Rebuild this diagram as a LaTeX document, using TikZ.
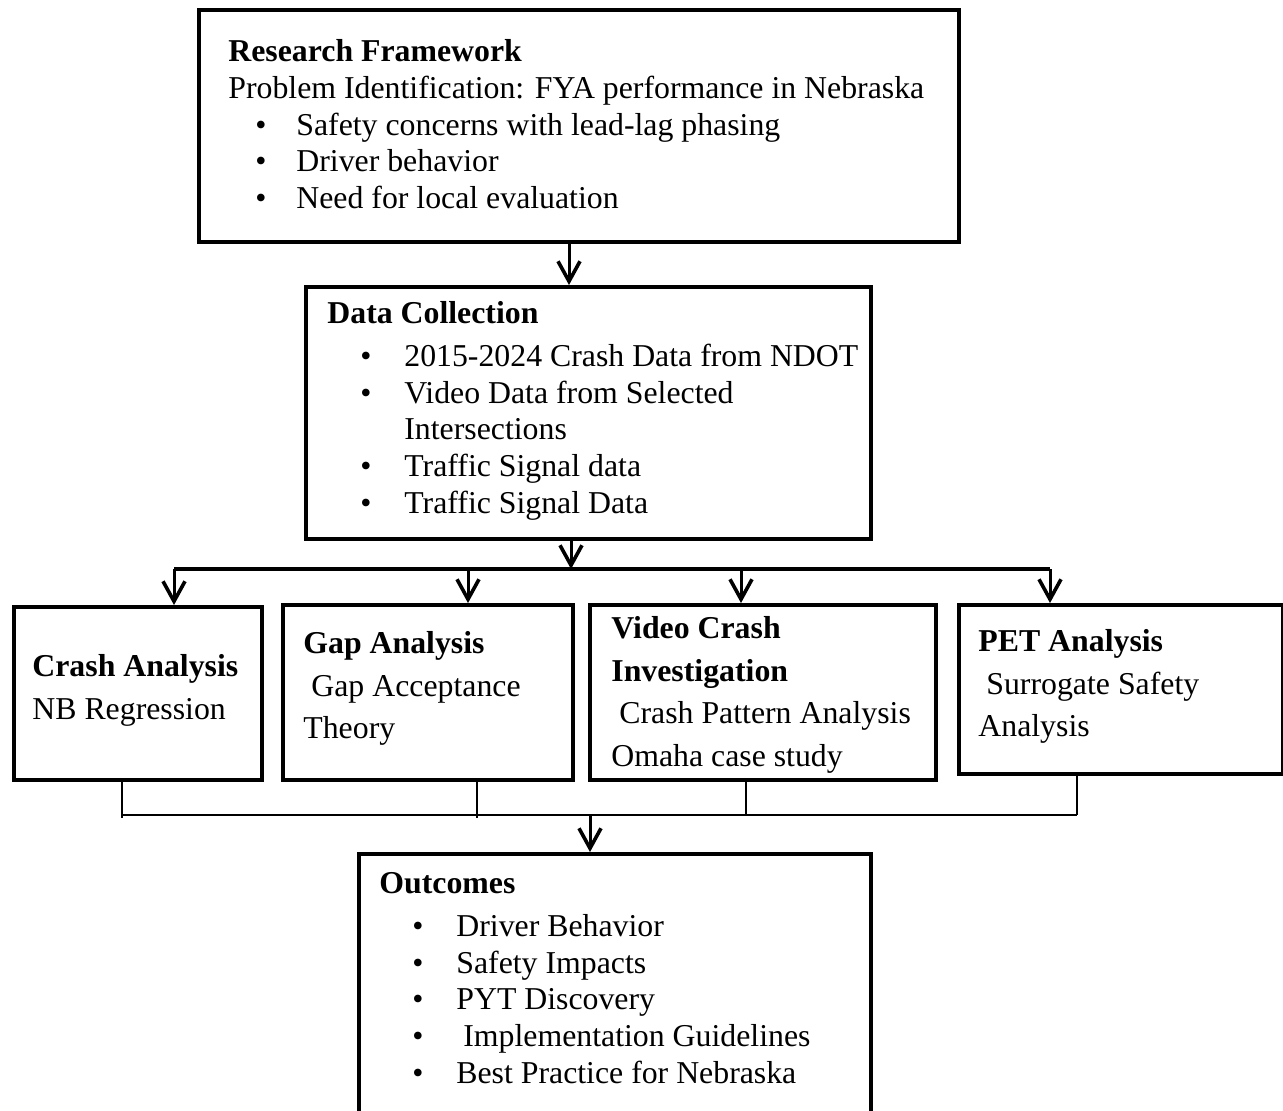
\documentclass[tikz,border=0pt]{standalone}
\usepackage{fontspec}
\setmainfont{Liberation Serif}
\usetikzlibrary{arrows.meta, positioning}

\tikzset{
  box/.style={draw, line width=1.8pt, anchor=north west, inner sep=0pt},
  txt/.style={anchor=north west, align=left, inner sep=0pt, font=\fontsize{15.9}{18.4}\selectfont},
  looses/.style={txt, font=\fontsize{15.9}{21.3}\selectfont},
  feed/.style={line width=1.5pt, -{Straight Barb[length=10pt,width=11pt,line width=1.8pt]}},
  bus/.style={line width=2.2pt},
  collect/.style={line width=1.3pt}
}
% bullet line: bullet offset, text offset, text
\newcommand{\bul}[3]{\makebox[#2][l]{\hspace{#1}\textbullet}#3}

\begin{document}
\begin{tikzpicture}[x=0.5pt, y=-0.5pt]
  \clip (0,0) rectangle (1283,1110);

  % boxes
  \node[box, minimum width=380pt, minimum height=116pt] (frame) at (197,8) {};
  \node[box, minimum width=282.5pt, minimum height=126pt] (data) at (304,285) {};
  \node[box, minimum width=124pt, minimum height=86.5pt] (crash) at (12,605) {};
  \node[box, minimum width=145pt, minimum height=87.5pt] (gap) at (281,603) {};
  \node[box, minimum width=173pt, minimum height=87.5pt] (video) at (588,603) {};
  \node[box, minimum width=162pt, minimum height=84.5pt] (pet) at (957,603) {};
  \node[box, minimum width=256pt, minimum height=140pt] (outcomes) at (357,852) {};

  % texts
  \node[txt] (frametxt) at (228,39) {\textbf{Research Framework}\\
    Problem Identification: FYA performance in Nebraska\\
    \bul{13.5pt}{34pt}{Safety concerns with lead-lag phasing}\\
    \bul{13.5pt}{34pt}{Driver behavior}\\
    \bul{13.5pt}{34pt}{Need for local evaluation}};
  \node[txt] (datatxt) at (327,301) {\textbf{Data Collection}\\[3pt]
    \bul{16.5pt}{38.5pt}{2015-2024 Crash Data from NDOT}\\
    \bul{16.5pt}{38.5pt}{Video Data from Selected}\\
    \hspace*{38.5pt}Intersections\\
    \bul{16.5pt}{38.5pt}{Traffic Signal data}\\
    \bul{16.5pt}{38.5pt}{Traffic Signal Data}};
  \node[looses] (crashtxt) at (32,654) {\textbf{Crash Analysis}\\ NB Regression};
  \node[looses] (gaptxt) at (303,631) {\textbf{Gap Analysis}\\ \hspace*{4pt}Gap Acceptance\\ Theory};
  \node[looses] (videotxt) at (611,616) {\textbf{Video Crash}\\ \textbf{Investigation}\\
    \hspace*{4pt}Crash Pattern Analysis\\ Omaha case study};
  \node[looses] (pettxt) at (978,629) {\textbf{PET Analysis}\\ \hspace*{4pt}Surrogate Safety\\ Analysis};
  \node[txt] (outtxt) at (379,872) {\textbf{Outcomes}\\[3pt]
    \bul{16.5pt}{38.5pt}{Driver Behavior}\\
    \bul{16.5pt}{38.5pt}{Safety Impacts}\\
    \bul{16.5pt}{38.5pt}{PYT Discovery}\\
    \bul{16.5pt}{38.5pt}{\hspace*{3.5pt}Implementation Guidelines}\\
    \bul{16.5pt}{38.5pt}{Best Practice for Nebraska}};

  % top arrows and fork
  \coordinate (a1) at (569,0);
  \coordinate (fork) at (571,569);
  \coordinate (busA) at (174,569);
  \coordinate (busB) at (468,569);
  \coordinate (busC) at (741,569);
  \coordinate (busD) at (1050,569);
  \draw[feed] (frame.south -| a1) -- (data.north -| a1);
  \draw[feed] (data.south -| fork) -- (fork);
  \draw[bus] (busA) -- (busD);
  \draw[feed] (busA) -- (busA |- crash.north);
  \draw[feed] (busB) -- (busB |- gap.north);
  \draw[feed] (busC) -- (busC |- video.north);
  \draw[feed] (busD) -- (busD |- pet.north);

  % collecting lines
  \coordinate (j1) at (122,818);
  \coordinate (j2) at (477,818);
  \coordinate (j3) at (746,815);
  \coordinate (j4) at (1077,815);
  \coordinate (join) at (590,815);
  \draw[collect] (crash.south -| j1) -- (j1);
  \draw[collect] (gap.south -| j2) -- (j2);
  \draw[collect] (video.south -| j3) -- (j3);
  \draw[collect] (pet.south -| j4) -- (j4);
  \draw[collect] (122,815) -- (j4);
  \draw[feed] (join) -- (outcomes.north -| join);
\end{tikzpicture}
\end{document}
